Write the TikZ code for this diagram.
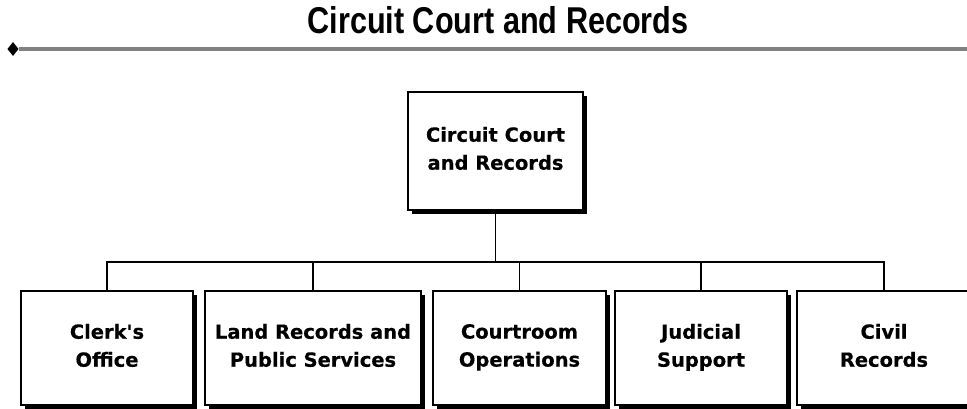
\documentclass[tikz,border=0pt]{standalone}
\usepackage{fontspec}
\usepackage{tikz}
\usetikzlibrary{shapes.geometric, shadows}
\newfontfamily\boxfont[BoldFeatures={FakeBold=0.4}]{DejaVu Sans}
\newfontfamily\titlefont[FakeStretch=0.82]{Liberation Sans}
\tikzstyle{unit} = [rectangle,
minimum height=85.5pt,
inner sep=0pt,
align=center,
draw=black,
line width=1.1pt,
fill=white,
font=\boxfont\bfseries\fontsize{14.6}{21}\selectfont,
execute at begin node={\rule{0pt}{31pt}},
execute at end node={\rule[-4pt]{0pt}{4pt}},
drop shadow={shadow xshift=3pt, shadow yshift=-3pt, opacity=1, fill=black}]
\tikzstyle{link} = [line width=1.1pt]
\tikzstyle{rule} = [line width=2.6pt, black!50]
\begin{document}
\begin{tikzpicture}[x=0.75pt, y=-0.75pt]
  \useasboundingbox (0,0) rectangle (967,408);

  \node (heading) [anchor=base, font=\titlefont\bfseries\fontsize{28}{32}\selectfont] at (498,33) {Circuit Court and Records};
  \node (tip) [diamond, fill=black, inner sep=0pt, minimum width=8.5pt, minimum height=10.5pt] at (13,49) {};
  \coordinate (ruleend) at (967,49);
  \draw [rule] (tip) -- (ruleend);

  \node (court) [unit, minimum width=131.25pt, minimum height=88.5pt] at (495.5,151) {Circuit Court\\and Records};

  \node (clerk) [unit, minimum width=129pt] at (107,348) {Clerk's\\Office};
  \node (land) [unit, minimum width=162pt] at (313,348) {Land Records and\\Public Services};
  \node (room) [unit, minimum width=129.75pt] at (519.5,348) {Courtroom\\Operations};
  \node (judicial) [unit, minimum width=129pt] at (701,348) {Judicial\\Support};
  \node (civil) [unit, minimum width=130.5pt] at (884,348) {Civil\\Records};

  \coordinate (bus) at (0,262);
  \draw [link] (court.south) -- (court.south |- bus);
  \draw [link] (clerk.north) -- (clerk.north |- bus) -- (civil.north |- bus) -- (civil.north);
  \draw [link] (land.north) -- (land.north |- bus);
  \draw [link] (room.north) -- (room.north |- bus);
  \draw [link] (judicial.north) -- (judicial.north |- bus);

\end{tikzpicture}
\end{document}
